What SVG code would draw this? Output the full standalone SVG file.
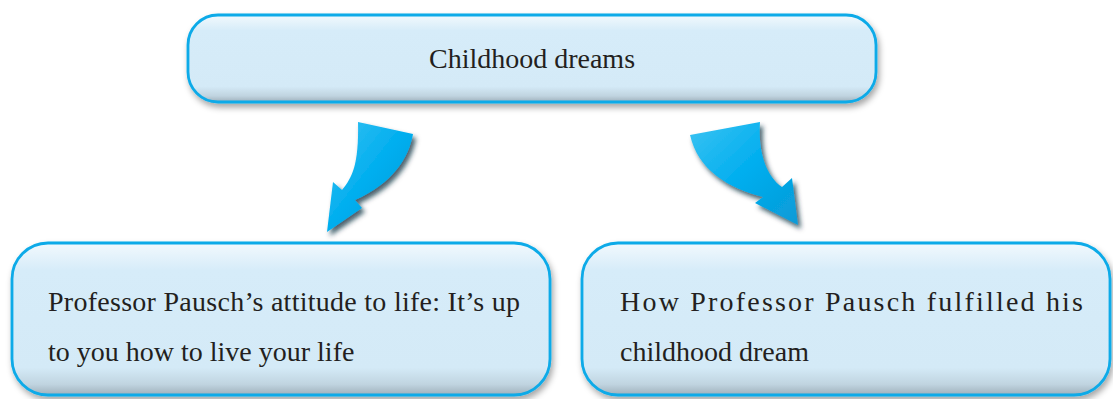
<svg xmlns="http://www.w3.org/2000/svg" width="1113" height="399" viewBox="0 0 1113 399">
<style>
.box{fill:url(#boxg);stroke:#0aaae8;stroke-width:2.8;filter:url(#sh)}
.t{font-family:"Liberation Serif","Times New Roman",serif;font-size:28px;fill:#231f20}
.arr{fill:url(#arrg);filter:url(#ash)}
</style>
<defs>
<linearGradient id="boxg" x1="0" y1="0" x2="0" y2="1">
<stop offset="0" stop-color="#f2f9fd"/>
<stop offset="0.18" stop-color="#d6ecf9"/>
<stop offset="0.82" stop-color="#d4eaf7"/>
<stop offset="0.93" stop-color="#c0d4e0"/>
<stop offset="1" stop-color="#9fb0bb"/>
</linearGradient>
<linearGradient id="arrg" x1="0" y1="0" x2="1" y2="1">
<stop offset="0" stop-color="#3cc3f2"/>
<stop offset="0.5" stop-color="#00aeef"/>
<stop offset="1" stop-color="#0a9ad6"/>
</linearGradient>
<filter id="sh" x="-5%" y="-10%" width="110%" height="130%">
<feGaussianBlur in="SourceAlpha" stdDeviation="3"/>
<feOffset dx="2" dy="4" result="b"/>
<feFlood flood-color="#000" flood-opacity="0.35"/>
<feComposite in2="b" operator="in"/>
<feMerge><feMergeNode/><feMergeNode in="SourceGraphic"/></feMerge>
</filter>
<filter id="ash" x="-30%" y="-30%" width="160%" height="160%">
<feGaussianBlur in="SourceAlpha" stdDeviation="2.5"/>
<feOffset dx="3" dy="4" result="b"/>
<feFlood flood-color="#0b2a3a" flood-opacity="0.75"/>
<feComposite in2="b" operator="in"/>
<feMerge><feMergeNode/><feMergeNode in="SourceGraphic"/></feMerge>
</filter>
</defs>
<g id="connectors">
<path class="arr" d="M358,122 L413,134 C409,158 392,184 355,200 L362,208 L327,232 L333,182 L342,190 C352,178 359,165 358,122 Z"/>
<path class="arr" d="M690,135 L760,122 C758,150 765,175 782,187 L792,178 L798,225 L755,203 L763,197 C728,188 698,170 690,135 Z"/>
</g>
<g id="top">
<rect class="box" x="188" y="15" width="688" height="87" rx="30"/>
<text class="t" x="532" y="68" text-anchor="middle">Childhood dreams</text>
</g>
<g id="left">
<rect class="box" x="12" y="243" width="538" height="152" rx="36"/>
<text class="t" x="48" y="311" textLength="472" lengthAdjust="spacing">Professor Pausch’s attitude to life: It’s up</text>
<text class="t" x="48" y="361">to you how to live your life</text>
</g>
<g id="right">
<rect class="box" x="582" y="243" width="528" height="152" rx="36"/>
<text class="t" x="620" y="311" textLength="463" lengthAdjust="spacing">How Professor Pausch fulfilled his</text>
<text class="t" x="620" y="361">childhood dream</text>
</g>
</svg>
